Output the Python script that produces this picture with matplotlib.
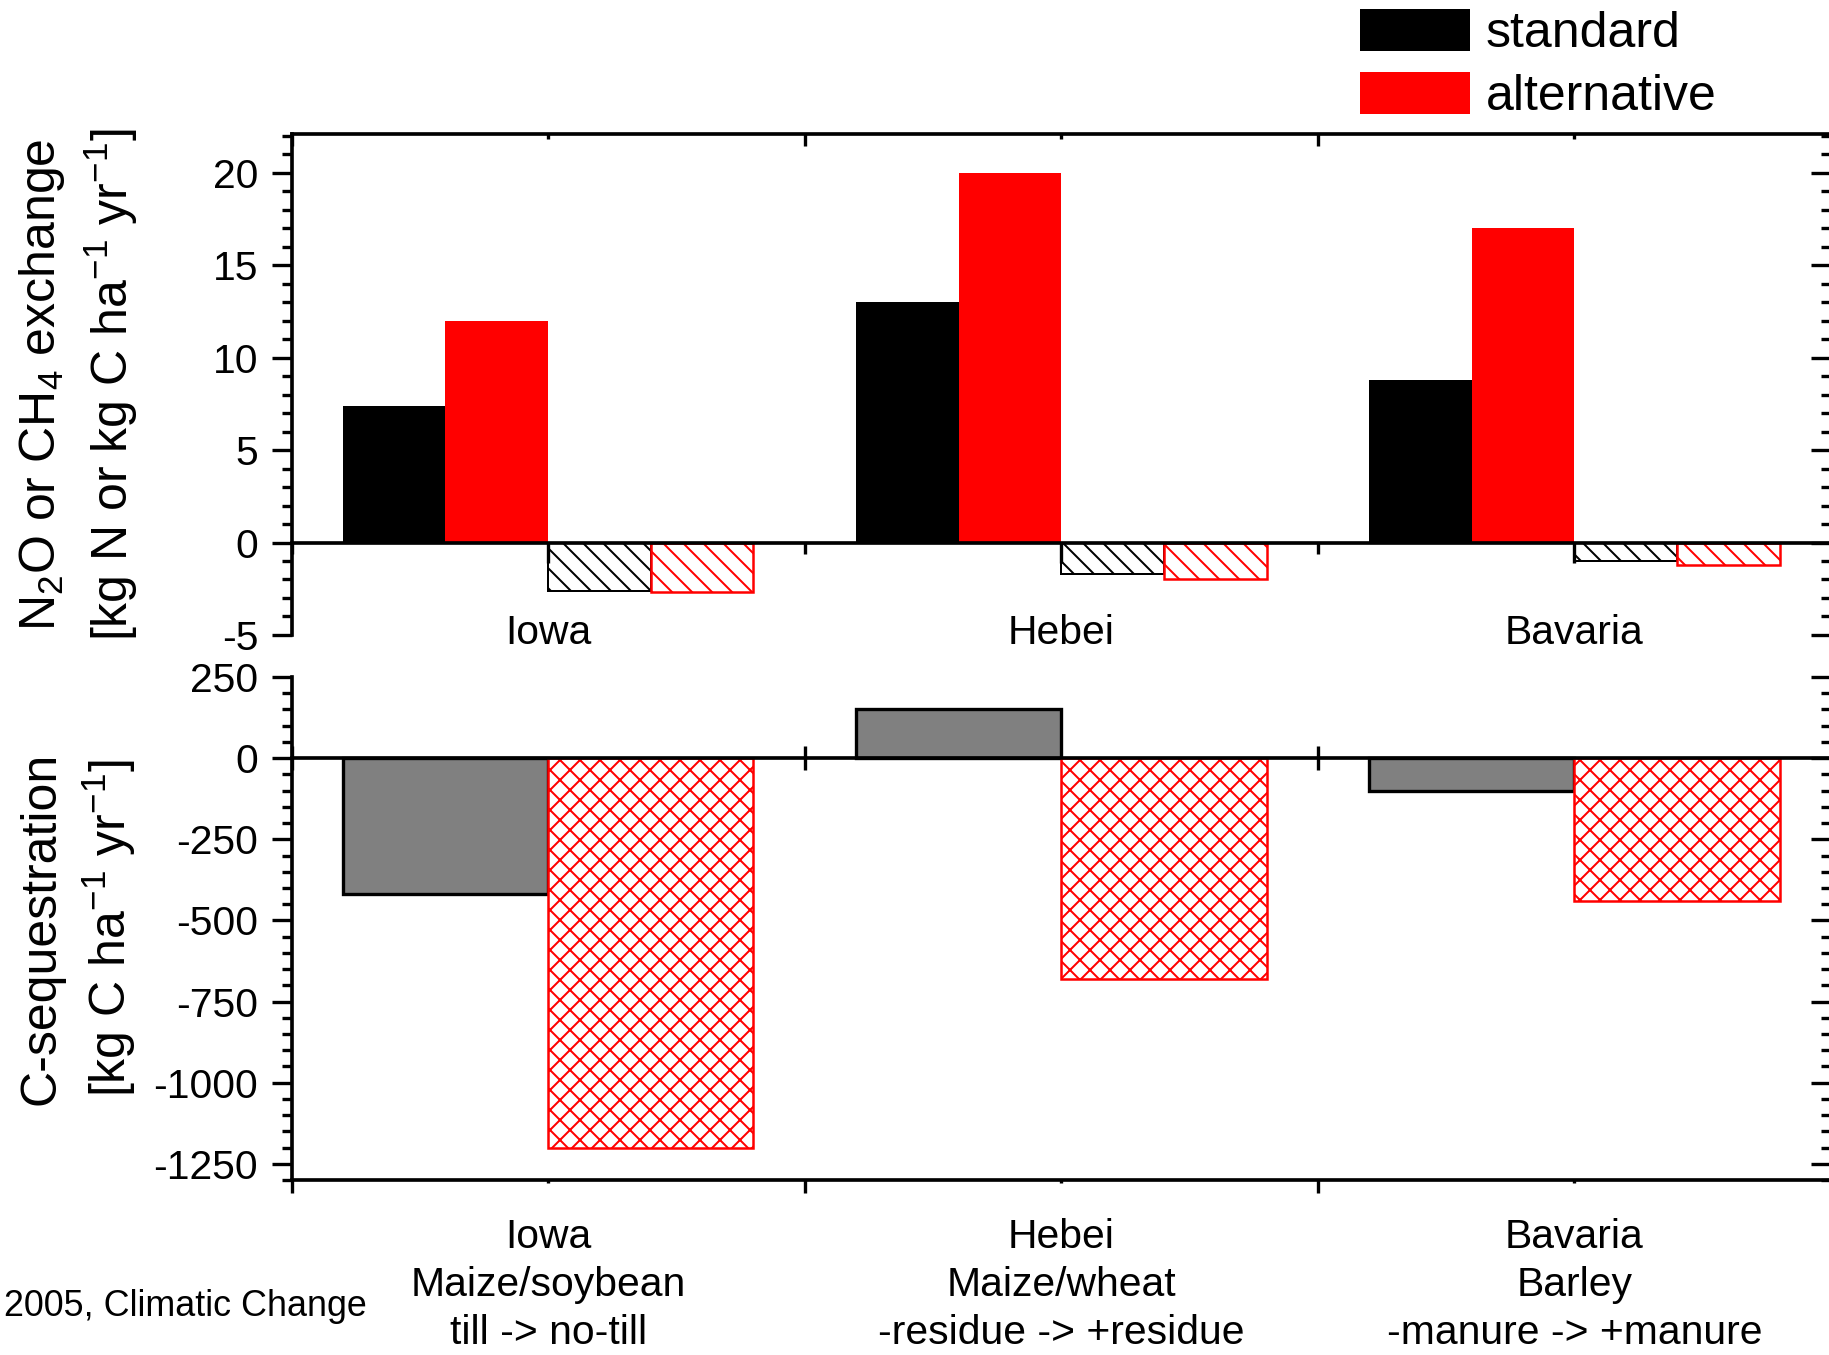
import numpy as np
import matplotlib
matplotlib.use('Agg')
import matplotlib.pyplot as plt
from matplotlib.ticker import MultipleLocator, FixedLocator
import matplotlib.transforms as mtransforms

plt.rcParams['font.family'] = ['Liberation Sans', 'DejaVu Sans']
plt.rcParams['mathtext.fontset'] = 'custom'
plt.rcParams['mathtext.rm'] = 'Liberation Sans'
plt.rcParams['mathtext.it'] = 'Liberation Sans:italic'
plt.rcParams['mathtext.default'] = 'regular'
plt.rcParams['axes.unicode_minus'] = False
plt.rcParams['hatch.linewidth'] = 1.2
plt.rcParams['axes.linewidth'] = 2.2

# data
regions = ['Iowa', 'Hebei', 'Bavaria']
details = ['Maize/soybean\ntill -> no-till',
           'Maize/wheat\n-residue -> +residue',
           'Barley\n-manure -> +manure']
n2o_std = [7.4, 13.0, 8.8]
n2o_alt = [12.0, 20.0, 17.0]
ch4_std = [-2.6, -1.7, -1.0]
ch4_alt = [-2.7, -2.0, -1.2]
cseq_std = [-420, 150, -100]
cseq_alt = [-1200, -680, -440]

x = np.arange(len(regions))
fs_tick = 24.5
fs_lab = 30

fig = plt.figure(figsize=(1829/120, 1355/120), dpi=120)
ax1 = fig.add_axes([0.1594, 0.5314, 0.8417, 0.3697])
ax2 = fig.add_axes([0.1594, 0.12915, 0.8417, 0.3712])

# top panel: N2O (solid) and CH4 (hatched)
b1 = ax1.bar(x + 0.2, n2o_std, 0.2, color='black', label='standard')
b2 = ax1.bar(x + 0.4, n2o_alt, 0.2, color='red', label='alternative')
ax1.bar(x + 0.6, ch4_std, 0.2, color='white', edgecolor='black', hatch='\\\\', lw=1.2)
ax1.bar(x + 0.8, ch4_alt, 0.2, color='white', edgecolor='red', hatch='\\\\', lw=1.5)

# bottom panel: C sequestration
ax2.bar(x + 0.3, cseq_std, 0.4, color='#808080', edgecolor='black', lw=2)
ax2.bar(x + 0.7, cseq_alt, 0.4, color='white', edgecolor='red', hatch='xx', lw=1.5)

for ax in (ax1, ax2):
    ax.set_xlim(0, 3)
    ax.xaxis.set_major_locator(MultipleLocator(1))
    ax.xaxis.set_minor_locator(FixedLocator(x + 0.5))
    ax.tick_params(axis='y', which='major', direction='out', length=12, width=2,
                   labelsize=fs_tick, pad=8)
    ax.tick_params(axis='y', which='minor', direction='out', length=6, width=2)

ax1.set_ylim(-5, 22.1)
ax1.yaxis.set_major_locator(MultipleLocator(5))
ax1.yaxis.set_minor_locator(MultipleLocator(1))
ax1.spines['bottom'].set_visible(False)
ax1.xaxis.set_ticks_position('top')
ax1.tick_params(axis='x', which='major', direction='in', length=7, width=2,
                labeltop=False, labelbottom=False)
ax1.tick_params(axis='x', which='minor', direction='in', length=3, width=2)

ax2.set_ylim(-1300, 250)
ax2.yaxis.set_major_locator(MultipleLocator(250))
ax2.yaxis.set_minor_locator(MultipleLocator(50))
ax2.spines['top'].set_visible(False)
ax2.tick_params(axis='x', which='major', direction='out', length=8, width=2,
                labelbottom=False, top=False)
ax2.tick_params(axis='x', which='minor', direction='out', length=2, width=2, top=False)

# mirrored ticks on the right edge
for ax, step, minor in ((ax1, 5, 1), (ax2, 250, 50)):
    sy = ax.secondary_yaxis('right')
    sy.yaxis.set_major_locator(MultipleLocator(step))
    sy.yaxis.set_minor_locator(MultipleLocator(minor))
    sy.tick_params(which='major', direction='in', length=12, width=2, labelright=False)
    sy.tick_params(which='minor', direction='in', length=6, width=2)

# zero lines
z1 = ax1.secondary_xaxis(0, transform=ax1.transData)
z1.xaxis.set_major_locator(FixedLocator(x + 0.5))
z1.xaxis.set_minor_locator(MultipleLocator(1))
z1.tick_params(which='major', direction='out', length=12, width=2, labelbottom=False)
z1.tick_params(which='minor', direction='out', length=6.5, width=2)
z1.set_zorder(3)

z2 = ax2.secondary_xaxis(0, transform=ax2.transData)
z2.xaxis.set_major_locator(MultipleLocator(1))
z2.tick_params(which='major', direction='inout', length=14, width=2, labelbottom=False)
z2.set_zorder(3)

for xi, r in zip(x, regions):
    ax1.text(xi + 0.5, -4.9, r, ha='center', va='center', fontsize=fs_tick)

trans = mtransforms.blended_transform_factory(ax2.transData, ax2.transAxes)
for xi, r, d in zip(x, regions, details):
    ax2.text(xi + 0.5, -0.2085, r + '\n' + d, transform=trans, ha='center',
             va='center', fontsize=fs_tick, linespacing=1.34)

ax1.set_ylabel('N$_2$O or CH$_4$ exchange\n[kg N or kg C ha$^{-1}$ yr$^{-1}$]',
               fontsize=fs_lab, linespacing=1.35, va='center')
ax1.yaxis.set_label_coords(-0.1385, 0.5)
ax2.set_ylabel('C-sequestration\n[kg C ha$^{-1}$ yr$^{-1}$]',
               fontsize=fs_lab, linespacing=1.35, va='center')
ax2.yaxis.set_label_coords(-0.1385, 0.5)

fig.legend(handles=[b1, b2], loc='upper left', bbox_to_anchor=(1360/1829, 1 - 9/1355),
           frameon=False, fontsize=fs_lab, handlelength=2.2, handleheight=0.9,
           handletextpad=0.32, labelspacing=0.3, borderpad=0, borderaxespad=0)

fig.text(367/1829, 1 - 1306/1355, '2005, Climatic Change', ha='right', va='center',
         fontsize=21.5)

fig.savefig('out.png', dpi=120)
